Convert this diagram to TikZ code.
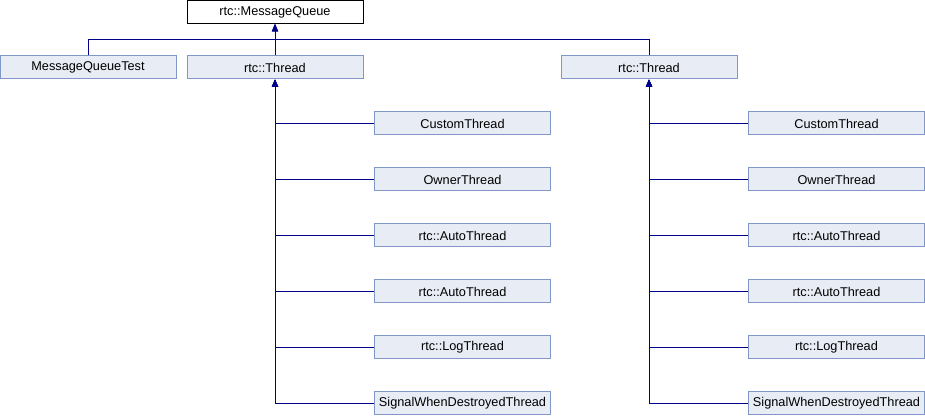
\documentclass[tikz,border=0pt]{standalone}
\usepackage{fontspec}
\setmainfont{Liberation Sans}
\usetikzlibrary{arrows.meta}
\definecolor{edgec}{HTML}{000088}
\definecolor{boxfill}{HTML}{E8ECF5}
\definecolor{boxdraw}{HTML}{7F98C8}
\begin{document}
\begin{tikzpicture}[x=0.75pt,y=-0.75pt,
  cls/.style={draw=boxdraw,fill=boxfill,line width=0.75pt,minimum width=176*0.75pt,minimum height=23*0.75pt,inner sep=0pt,font=\fontsize{9.55}{11}\selectfont},
  topcls/.style={cls,draw=black,fill=white},
  edge/.style={draw=edgec,line width=0.75pt,-{Triangle[length=5.5pt,width=4.5pt]}}]
\useasboundingbox (0,0) rectangle (925,416);
\node[topcls] (mq) at (275,12) {rtc::MessageQueue};
\node[cls] (mqt) at (88,67.5) {MessageQueueTest};
\node[cls] (t1) at (275,67.5) {rtc::Thread};
\node[cls] (t2) at (649,67.5) {rtc::Thread};
\coordinate (bus) at (275,40);
\foreach \side/\x/\t in {a/462.5/t1,b/836.5/t2}{
  \node[cls] (\side1) at (\x,123.5) {CustomThread};
  \node[cls] (\side2) at (\x,179.5) {OwnerThread};
  \node[cls] (\side3) at (\x,235.5) {rtc::AutoThread};
  \node[cls] (\side4) at (\x,291.5) {rtc::AutoThread};
  \node[cls] (\side5) at (\x,347.5) {rtc::LogThread};
  \node[cls] (\side6) at (\x,403.5) {SignalWhenDestroyedThread};
  \foreach \i in {1,...,6}{
    \draw[edge] (\side\i.west) -| (\t.south);
  }
}
\draw[edge] (mqt.north) |- (bus) -- (mq.south);
\draw[edge] (t1.north) -- (mq.south);
\draw[edge] (t2.north) |- (bus) -- (mq.south);
\end{tikzpicture}
\end{document}
